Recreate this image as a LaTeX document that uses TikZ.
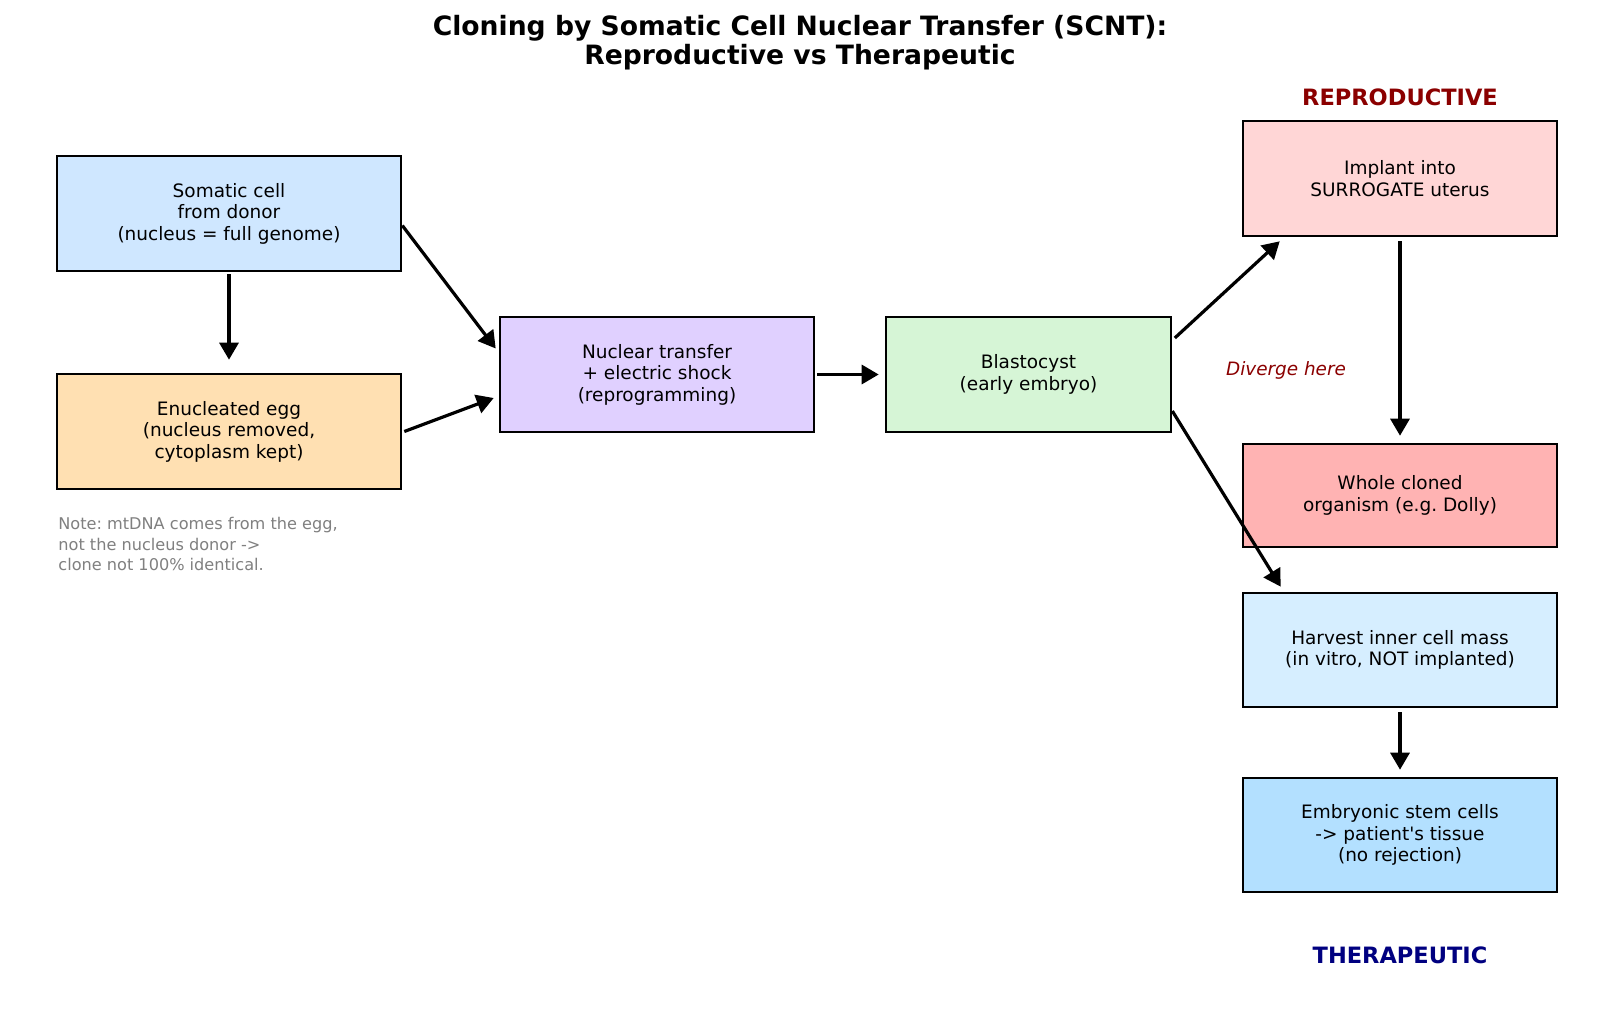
\documentclass[tikz,border=0pt]{standalone}
\usepackage{fontspec}
\setmainfont{DejaVu Sans}[Ligatures=TeXOff]
\usetikzlibrary{arrows.meta}
\definecolor{cSom}{RGB}{207,231,255}
\definecolor{cEgg}{RGB}{255,224,178}
\definecolor{cNT}{RGB}{224,208,255}
\definecolor{cBla}{RGB}{214,245,214}
\definecolor{cImp}{RGB}{255,214,214}
\definecolor{cWho}{RGB}{255,179,179}
\definecolor{cHar}{RGB}{214,238,255}
\definecolor{cEmb}{RGB}{179,224,255}
\definecolor{dred}{RGB}{139,0,0}
\definecolor{dnavy}{RGB}{0,0,128}
\tikzset{
  stepbox/.style={draw=black, line width=1.3pt, rectangle, align=center, inner sep=0pt,
    font=\fontsize{9.24}{10.75}\selectfont},
  flow/.style={line width=1.6pt, -{Triangle[length=8.5pt,width=9.5pt]}},
}
\begin{document}
\frenchspacing
\begin{tikzpicture}[x=0.5pt,y=-0.5pt]
\useasboundingbox[fill=white] (0,0) rectangle (1600,1010);
\node[font=\fontsize{13.3}{14.8}\selectfont\bfseries, align=center] (title) at (800,42.5)
  {Cloning by Somatic Cell Nuclear Transfer (SCNT):\\Reproductive vs Therapeutic};

\node[stepbox, fill=cSom, minimum width=172pt, minimum height=57.5pt] (som) at (229,213.5)
  {Somatic cell\\from donor\\(nucleus = full genome)};
\node[stepbox, fill=cEgg, minimum width=172pt, minimum height=57.5pt] (egg) at (229,431.5)
  {Enucleated egg\\(nucleus removed,\\cytoplasm kept)};
\node[stepbox, fill=cNT, minimum width=157pt, minimum height=57.5pt] (nt) at (657,374.5)
  {Nuclear transfer\\+ electric shock\\(reprogramming)};
\node[stepbox, fill=cBla, minimum width=142.5pt, minimum height=57.5pt] (bla) at (1028.5,374.5)
  {Blastocyst\\(early embryo)};
\node[stepbox, fill=cImp, minimum width=157pt, minimum height=57.5pt] (imp) at (1400,178.5)
  {Implant into\\SURROGATE uterus};
\node[stepbox, fill=cWho, minimum width=157pt, minimum height=51.5pt] (who) at (1400,495.5)
  {Whole cloned\\organism (e.g. Dolly)};
\node[stepbox, fill=cHar, minimum width=157pt, minimum height=57pt] (har) at (1400,650)
  {Harvest inner cell mass\\(in vitro, NOT implanted)};
\node[stepbox, fill=cEmb, minimum width=157pt, minimum height=57pt] (emb) at (1400,835)
  {Embryonic stem cells\\-> patient's tissue\\(no rejection)};

\node[anchor=west, align=left, inner sep=0pt, text=gray, font=\fontsize{8.07}{10.4}\selectfont] (note) at (58,544)
  {Note: mtDNA comes from the egg,\\not the nucleus donor ->\\clone not 100\% identical.};

\node[font=\fontsize{11.25}{12}\selectfont\bfseries, text=dred] (rep) at (1400,97) {REPRODUCTIVE};
\node[font=\fontsize{11.25}{12}\selectfont\bfseries, text=dnavy] (ther) at (1400,955) {THERAPEUTIC};
\node[font=\fontsize{9.2}{11}\selectfont\itshape, text=dred] (div) at (1286,370) {Diverge here};

\draw[flow] ([yshift=-1pt]som.south) -- ([yshift=6.5pt]egg.north);
\draw[flow] ([yshift=-6pt]som.east) -- ([xshift=-1.5pt,yshift=13pt]nt.west);
\draw[flow] ([xshift=1pt]egg.east) -- ([xshift=-2.5pt,yshift=-11.75pt]nt.west);
\draw[flow] ([xshift=1pt]nt.east) -- ([xshift=-3pt]bla.west);
\draw[flow] ([xshift=1.25pt,yshift=18.25pt]bla.east) -- ([xshift=19pt,yshift=-2pt]imp.south west);
\draw[flow] ([yshift=-18.25pt]bla.east) -- ([xshift=19.5pt,yshift=2.5pt]har.north west);
\draw[flow] ([yshift=-2pt]imp.south) -- ([yshift=3.5pt]who.north);
\draw[flow] ([yshift=-2pt]har.south) -- ([yshift=3.5pt]emb.north);
\end{tikzpicture}
\end{document}
